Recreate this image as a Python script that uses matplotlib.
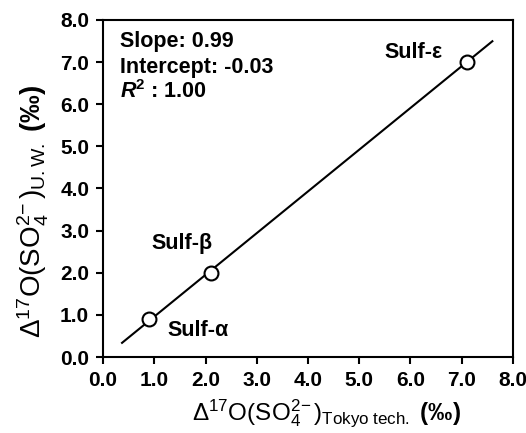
import matplotlib
matplotlib.use("Agg")
import matplotlib.pyplot as plt
import numpy as np

plt.rcParams['font.family'] = ['Liberation Sans', 'DejaVu Sans']
plt.rcParams['mathtext.fontset'] = 'custom'
plt.rcParams['mathtext.rm'] = 'Liberation Sans'
plt.rcParams['mathtext.it'] = 'Liberation Sans:italic'
plt.rcParams['mathtext.bf'] = 'Liberation Sans:bold'
plt.rcParams['mathtext.bfit'] = 'Liberation Sans:bold:italic'
plt.rcParams['mathtext.default'] = 'regular'

# data
samples = ['Sulf-α', 'Sulf-β', 'Sulf-ε']
x_tokyo = [0.9, 2.1, 7.1]
y_uw = [0.9, 2.0, 7.0]
slope = 0.99
intercept = -0.03
r2 = 1.00
fit_range = [0.37, 7.6]
ticks = [0, 1, 2, 3, 4, 5, 6, 7, 8]

fig = plt.figure(figsize=(5.26, 4.33), dpi=100)
ax = fig.add_axes([0.196, 0.1755, 0.779, 0.7785])

xf = np.array(fit_range)
ax.plot(xf, slope * xf + intercept, color='black', lw=1.5, zorder=2)
ax.plot(x_tokyo, y_uw, 'o', mfc='white', mec='black', mew=1.5, ms=10, zorder=3)

ax.set_xlim(0, 8)
ax.set_ylim(0, 8)
ax.set_xticks(ticks)
ax.set_yticks(ticks)
ax.set_xticklabels([f'{t:.1f}' for t in ticks], fontsize=15, fontweight='bold')
ax.set_yticklabels([f'{t:.1f}' for t in ticks], fontsize=15, fontweight='bold')
ax.tick_params(direction='out', length=5, width=1.5, pad=5)
for s in ax.spines.values():
    s.set_linewidth(1.5)

ax.set_xlabel(r'$\Delta^{17}$O(SO$_4^{2\!-}$)$_{\mathrm{Tokyo\ tech.}}$ $\mathbf{(‰)}$', fontsize=17.5)
ax.set_ylabel(r'$\Delta^{17}$O(SO$_4^{2\!-}$)$_{\mathrm{U.W.}}$ $\mathbf{(‰)}$', fontsize=20)
ax.xaxis.set_label_coords(0.546, -0.12)
ax.yaxis.set_label_coords(-0.128, 0.433)

tkw = dict(fontsize=15.5, fontweight='bold')
ax.text(0.33, 7.48, f'Slope: {slope:.2f}', va='center', ha='left', **tkw)
ax.text(0.33, 6.88, f'Intercept: {intercept:.2f}', va='center', ha='left', **tkw)
ax.text(0.33, 6.29, r'$\mathbfit{R}^{\mathbf{2}}$' + f' : {r2:.2f}', va='center', ha='left', **tkw)

label_pos = [(1.25, 0.63), (0.94, 2.7), (5.5, 7.22)]
for name, (lx, ly) in zip(samples, label_pos):
    ax.text(lx, ly, name, ha='left', va='center', **tkw)

fig.savefig('out.png', dpi=100)
